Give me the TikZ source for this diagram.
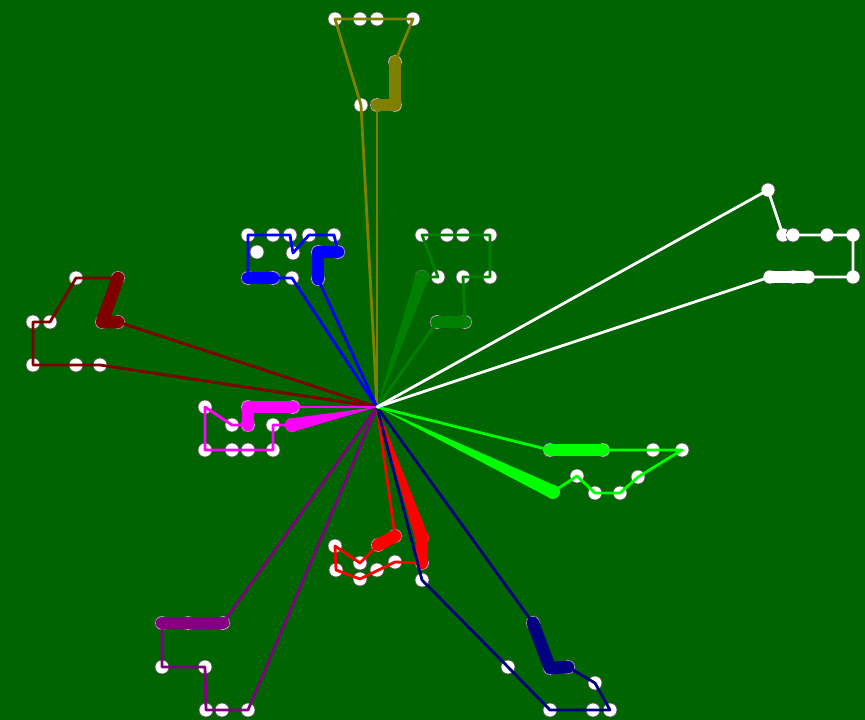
\documentclass[tikz,border=0pt]{standalone}
\usetikzlibrary{calc}
\definecolor{bg}{RGB}{0,100,0}
\definecolor{colive}{RGB}{128,128,0}
\definecolor{cblue}{RGB}{0,0,255}
\definecolor{cmaroon}{RGB}{128,0,0}
\definecolor{cmag}{RGB}{255,0,255}
\definecolor{cpurple}{RGB}{128,0,128}
\definecolor{cred}{RGB}{255,0,0}
\definecolor{cnavy}{RGB}{0,0,128}
\definecolor{clime}{RGB}{0,255,0}
\definecolor{cdkgreen}{RGB}{0,128,0}
\tikzset{
 dot/.style={circle, fill=white, draw=black!65, line width=0.7pt, inner sep=0pt, minimum size=14pt},
 wire/.style={line width=2.8pt, line join=round, line cap=round},
 bar/.style={line width=12.5pt, line join=round, line cap=round},
}
\newcommand\wedgeline[3]{%
 \fill[#1] (#3) -- ($(#2.center)!6.8pt!90:(#3)$) -- ($(#2.center)!6.8pt!-90:(#3)$) -- cycle;
 \fill[#1] (#2.center) circle (6.8pt);}
\begin{document}
\begin{tikzpicture}[x=1pt,y=-1pt]
\fill[bg] (0,0) rectangle (865,720);
\useasboundingbox (0,0) rectangle (865,720);
\coordinate (C) at (377,407);

% olive
\foreach \n/\x/\y in {o1/361/105,o2/335/19,o3/360/19,o4/377/19,o5/413/19,o6/395/62,o7/395/105,o8/377/105}
  \node[dot] (\n) at (\x,\y) {};
\draw[wire,colive] (C) -- (o1.center) -- (o2.center) -- (o3.center) -- (o4.center) -- (o5.center) -- (o6.center);
\draw[bar,colive] (o6.center) -- (o7.center) -- (o8.center);
\draw[wire,colive] (o8.center) -- (C);

% blue
\foreach \n/\x/\y in {b1/292/278,b2/273/278,b3/248/278,b4/248/235,b5/273/235,b6/290/235,b7/293/253,b8/309/235,b9/334/235,b10/338/252,b11/318/252,b12/318/279,b13/257/252}
  \node[dot] (\n) at (\x,\y) {};
\draw[wire,cblue] (C) -- (b1.center) -- (b2.center);
\draw[bar,cblue] (b2.center) -- (b3.center);
\draw[wire,cblue] (b3.center) -- (b4.center) -- (b5.center) -- (b6.center) -- (b7.center) -- (b8.center) -- (b9.center) -- (b10.center);
\draw[bar,cblue] (b10.center) -- (b11.center) -- (b12.center);
\draw[wire,cblue] (b12.center) -- (C);

% maroon
\foreach \n/\x/\y in {m1/100/365,m2/76/365,m3/33/365,m4/33/322,m5/50/322,m6/76/278,m7/118/278,m8/102/322,m9/118/322}
  \node[dot] (\n) at (\x,\y) {};
\draw[wire,cmaroon] (C) -- (m1.center) -- (m2.center) -- (m3.center) -- (m4.center) -- (m5.center) -- (m6.center) -- (m7.center);
\draw[bar,cmaroon] (m7.center) -- (m8.center) -- (m9.center);
\draw[wire,cmaroon] (m9.center) -- (C);

% purple
\foreach \n/\x/\y in {p1/223/623,p2/188/623,p3/162/623,p4/162/667,p5/205/667,p6/206/710,p7/222/710,p8/248/710}
  \node[dot] (\n) at (\x,\y) {};
\draw[wire,cpurple] (C) -- (p1.center);
\draw[bar,cpurple] (p1.center) -- (p3.center);
\draw[wire,cpurple] (p3.center) -- (p4.center) -- (p5.center) -- (p6.center) -- (p7.center) -- (p8.center) -- (C);

% magenta
\foreach \n/\x/\y in {g1/293/407,g2/248/407,g3/248/425,g4/232/425,g5/205/407,g6/205/450,g7/232/450,g8/248/450,g9/273/450,g10/273/425,g11/292/425}
  \node[dot] (\n) at (\x,\y) {};
\draw[wire,cmag] (C) -- (g1.center);
\draw[bar,cmag] (g1.center) -- (g2.center) -- (g3.center);
\draw[wire,cmag] (g3.center) -- (g4.center) -- (g5.center) -- (g6.center) -- (g7.center) -- (g8.center) -- (g9.center) -- (g10.center) -- (g11.center);
\wedgeline{cmag}{g11}{C}

% red
\foreach \n/\x/\y in {r1/395/536,r2/378/545,r3/360/563,r4/335/546,r5/336/570,r6/360/579,r7/377/570,r8/395/562,r9/422/563,r10/422/538}
  \node[dot] (\n) at (\x,\y) {};
\draw[wire,cred] (C) -- (r1.center);
\draw[bar,cred] (r1.center) -- (r2.center);
\draw[wire,cred] (r2.center) -- (r3.center) -- (r4.center) -- (r5.center) -- (r6.center) -- (r8.center) -- (r9.center);
\draw[bar,cred] (r9.center) -- (r10.center);
\wedgeline{cred}{r10}{C}

% navy
\foreach \n/\x/\y in {n1/422/580,n2/508/667,n3/550/710,n4/593/710,n5/610/710,n6/595/683,n7/568/667,n8/550/668,n9/533/623}
  \node[dot] (\n) at (\x,\y) {};
\draw[wire,cnavy] (C) -- (n1.center) -- (n2.center) -- (n3.center) -- (n4.center) -- (n5.center) -- (n6.center) -- (n7.center);
\draw[bar,cnavy] (n7.center) -- (n8.center) -- (n9.center);
\draw[wire,cnavy] (n9.center) -- (C);

% lime
\foreach \n/\x/\y in {l1/550/450,l2/603/450,l3/653/450,l4/682/450,l5/638/477,l6/620/493,l7/595/493,l8/577/476,l9/553/492}
  \node[dot] (\n) at (\x,\y) {};
\draw[wire,clime] (C) -- (l1.center);
\draw[bar,clime] (l1.center) -- (l2.center);
\draw[wire,clime] (l2.center) -- (l3.center) -- (l4.center) -- (l5.center) -- (l6.center) -- (l7.center) -- (l8.center) -- (l9.center);
\wedgeline{clime}{l9}{C}

% dark green
\foreach \n/\x/\y in {d1/422/277,d2/438/277,d3/422/235,d4/447/235,d5/463/235,d6/490/235,d7/490/277,d8/463/277,d9/465/322,d10/437/322}
  \node[dot] (\n) at (\x,\y) {};
\wedgeline{cdkgreen}{d1}{C}
\draw[wire,cdkgreen] (d1.center) -- (d2.center) -- (d3.center) -- (d4.center) -- (d5.center) -- (d6.center) -- (d7.center) -- (d8.center) -- (d9.center);
\draw[bar,cdkgreen] (d9.center) -- (d10.center);
\draw[wire,cdkgreen] (d10.center) -- (C);

% white
\foreach \n/\x/\y in {w1/768/190,w2/783/235,w3/793/235,w4/827/235,w5/853/235,w6/853/277,w7/808/277,w8/793/277,w9/770/277}
  \node[dot] (\n) at (\x,\y) {};
\draw[wire,white] (C) -- (w1.center) -- (w2.center) -- (w3.center) -- (w4.center) -- (w5.center) -- (w6.center) -- (w7.center);
\draw[bar,white] (w7.center) -- (w9.center);
\draw[wire,white] (w9.center) -- (C);
\end{tikzpicture}
\end{document}
